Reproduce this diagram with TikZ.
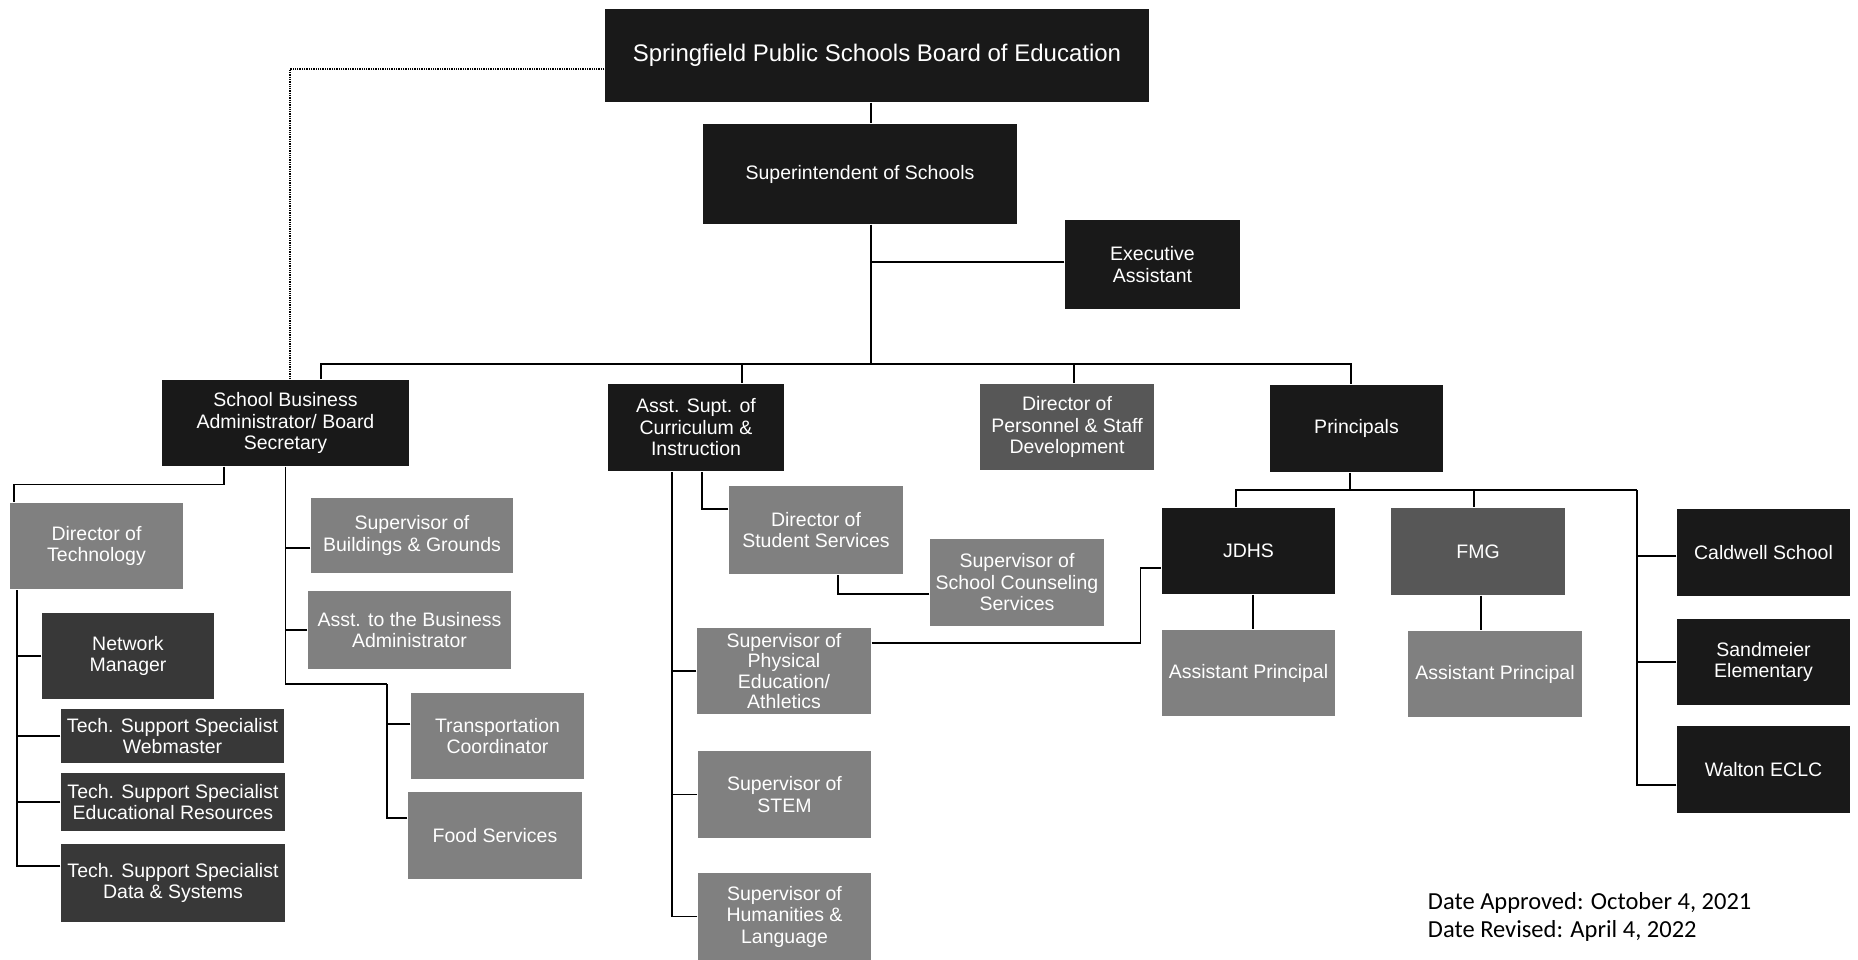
\documentclass[tikz,border=0pt]{standalone}
\usepackage{fontspec}
\setmainfont{Liberation Sans}
\newfontfamily\datefont{Carlito}

\begin{document}
\begin{tikzpicture}[x=1pt,y=-1pt,line width=1.3pt,
  org node/.style={rectangle,text=white,inner sep=0pt,align=center,font=\fontsize{19.5}{21.5}\selectfont},
  black node/.style={org node,fill=black!90},
  dark node/.style={org node,fill=black!78},
  mid node/.style={org node,fill=black!66},
  light node/.style={org node,fill=black!50},
  boxsize/.style 2 args={minimum width=#1pt,minimum height=#2pt},
  date node/.style={anchor=base west,font=\datefont\fontsize{24.5}{28}\selectfont}]

  \useasboundingbox (0,0) rectangle (1858,960);

  \node[black node,boxsize={544}{93},font=\fontsize{24}{26}\selectfont] (board) at (877,55.5) {Springfield Public Schools Board of Education};
  \node[black node,boxsize={314}{100}] (supt) at (860,174) {Superintendent of Schools};
  \node[black node,boxsize={175}{89}] (exec) at (1152.5,264.5) {Executive\\Assistant};
  \node[black node,boxsize={247}{86}] (sba) at (285.5,423) {School Business\\Administrator/ Board\\Secretary};
  \node[black node,boxsize={176}{87}] (asc) at (696,427.5) {Asst. Supt. of\\Curriculum \&\\Instruction};
  \node[mid node,boxsize={174}{86}] (dps) at (1067,427) {Director of\\Personnel \& Staff\\Development};
  \node[black node,boxsize={173}{87}] (prn) at (1356.5,428.5) {Principals};

  \node[light node,boxsize={173}{86}] (dot) at (96.5,546) {Director of\\Technology};
  \node[dark node,boxsize={172}{86}] (net) at (128,656) {Network\\Manager};
  \node[dark node,boxsize={223}{54}] (tsw) at (172.5,736) {Tech. Support Specialist\\Webmaster};
  \node[dark node,boxsize={224}{58}] (tse) at (173,802) {Tech. Support Specialist\\Educational Resources};
  \node[dark node,boxsize={224}{78}] (tsd) at (173,883) {Tech. Support Specialist\\Data \& Systems};
  \node[light node,boxsize={202}{75}] (sbg) at (412,535.5) {Supervisor of\\Buildings \& Grounds};
  \node[light node,boxsize={203}{78}] (abn) at (409.5,630) {Asst. to the Business\\Administrator};
  \node[light node,boxsize={173}{86}] (trn) at (497.5,736) {Transportation\\Coordinator};
  \node[light node,boxsize={174}{87}] (fds) at (495,835.5) {Food Services};

  \node[light node,boxsize={174}{88}] (dss) at (816,530) {Director of\\Student Services};
  \node[light node,boxsize={174}{87}] (ssc) at (1017,582.5) {Supervisor of\\School Counseling\\Services};
  \node[light node,boxsize={174}{86},font=\fontsize{19.5}{20.5}\selectfont] (spe) at (784,671) {Supervisor of\\Physical\\Education/\\Athletics};
  \node[light node,boxsize={173}{87}] (stm) at (784.5,794.5) {Supervisor of\\STEM};
  \node[light node,boxsize={173}{87}] (shl) at (784.5,916.5) {Supervisor of\\Humanities \&\\Language};

  \node[black node,boxsize={173}{86}] (jdh) at (1248.5,551) {JDHS};
  \node[mid node,boxsize={174}{87}] (fmg) at (1478,551.5) {FMG};
  \node[light node,boxsize={173}{86}] (jap) at (1248.5,673) {Assistant Principal};
  \node[light node,boxsize={174}{86}] (fap) at (1495,674) {Assistant Principal};
  \node[black node,boxsize={173}{87}] (cdw) at (1763.5,552.5) {Caldwell School};
  \node[black node,boxsize={173}{86}] (snd) at (1763.5,662) {Sandmeier\\Elementary};
  \node[black node,boxsize={173}{87}] (wlt) at (1763.5,769.5) {Walton ECLC};

  \node[date node] (appr) at (1424,909) {Date Approved: October 4, 2021};
  \node[date node] (revd) at (1424,937) {Date Revised: April 4, 2022};

  \coordinate (bus) at (871,364);
  \coordinate (tjog) at (387,684);
  \coordinate (pbus) at (1350,490);
  \coordinate (rtrunk) at (1637,490);

  \draw ([xshift=-6pt]board.south) -- ([xshift=11pt]supt.north);
  \draw ([xshift=11pt]supt.south) -- (bus);
  \draw ([yshift=2.5pt]exec.west) -| (bus);
  \draw ([xshift=35.5pt]sba.north) |- (bus) -| ([xshift=-5.5pt]prn.north);
  \draw (bus) -| ([xshift=46pt]asc.north);
  \draw (bus) -| ([xshift=7pt]dps.north);
  \draw[densely dotted] ([yshift=-13.5pt]board.west) -| ([xshift=4.5pt]sba.north);

  \draw ([xshift=-61.5pt]sba.south) -- ++(0,18) -| ([xshift=-82.5pt]dot.north);
  \draw (net.west) -| ([xshift=-79.5pt]dot.south);
  \draw (tsw.west) -| ([xshift=-79.5pt]dot.south);
  \draw (tse.west) -| ([xshift=-79.5pt]dot.south);
  \draw ([yshift=17pt]tsd.west) -| ([xshift=-79.5pt]dot.south);
  \draw (sba.south) |- (tjog);
  \draw ([yshift=-12.5pt]sbg.west) -| (sba.south);
  \draw (abn.west) -| (sba.south);
  \draw ([yshift=12pt]trn.west) -| (tjog);
  \draw ([yshift=17.5pt]fds.west) -| (tjog);

  \draw ([yshift=21pt]dss.west) -| ([xshift=6pt]asc.south);
  \draw ([yshift=-11.5pt]ssc.west) -| ([xshift=22pt]dss.south);
  \draw (spe.west) -| ([xshift=-24pt]asc.south);
  \draw (stm.west) -| ([xshift=-24pt]asc.south);
  \draw (shl.west) -| ([xshift=-24pt]asc.south);
  \draw ([yshift=28pt]spe.east) -- ++(269,0) |- ([yshift=-17pt]jdh.west);

  \draw ([xshift=-6.5pt]prn.south) -- (pbus);
  \draw (pbus) -| ([xshift=-12.5pt]jdh.north);
  \draw (pbus) -| ([xshift=-4pt]fmg.north);
  \draw (pbus) -- (rtrunk);
  \draw ([yshift=-3.5pt]cdw.west) -| (rtrunk);
  \draw (snd.west) -| (rtrunk);
  \draw ([yshift=-15.5pt]wlt.west) -| (rtrunk);
  \draw ([xshift=4.5pt]jdh.south) -- ([xshift=4.5pt]jap.north);
  \draw ([xshift=3pt]fmg.south) -- ([xshift=-14pt]fap.north);
\end{tikzpicture}
\end{document}
